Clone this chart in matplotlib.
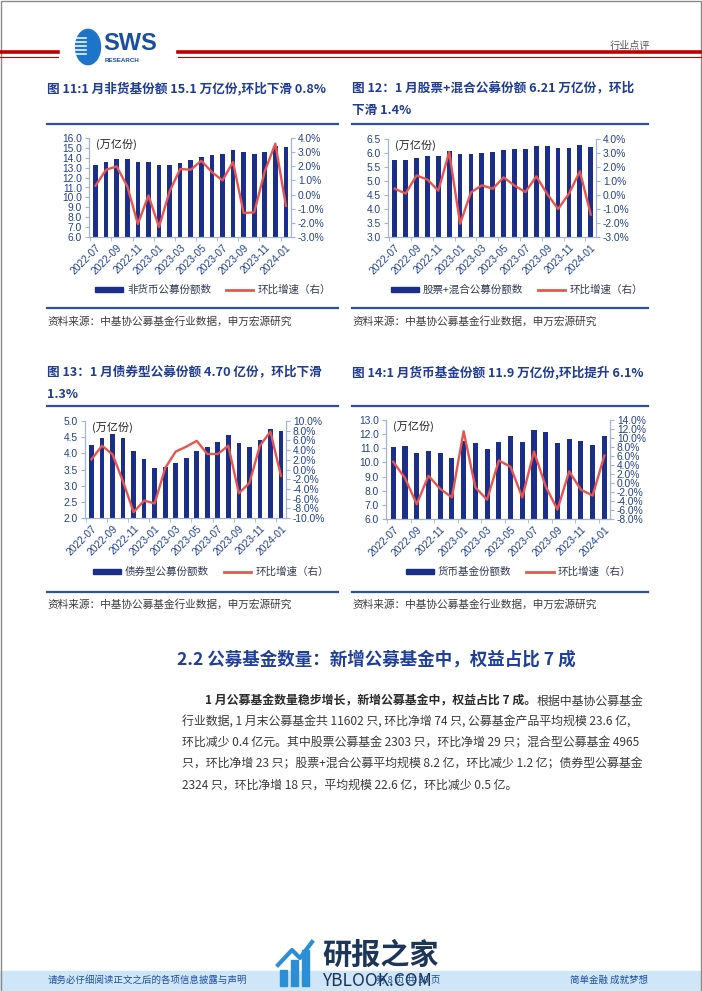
import numpy as np
import matplotlib
matplotlib.use('Agg')
import matplotlib.pyplot as plt
from matplotlib.patches import Rectangle, Circle
from matplotlib.lines import Line2D
from matplotlib.ticker import FormatStrFormatter, FuncFormatter

plt.rcParams['font.family'] = ['Noto Sans CJK SC', 'DejaVu Sans']

W, H = 702, 991

months = ['2022-07', '2022-08', '2022-09', '2022-10', '2022-11', '2022-12',
          '2023-01', '2023-02', '2023-03', '2023-04', '2023-05', '2023-06',
          '2023-07', '2023-08', '2023-09', '2023-10', '2023-11', '2023-12',
          '2024-01']

# 图11 非货币公募份额 (万亿份) / 环比 (%)
nonmoney_share = [13.3, 13.6, 13.85, 13.9, 13.6, 13.6, 13.25, 13.27, 13.5, 13.78,
                  14.08, 14.3, 14.4, 14.8, 14.6, 14.4, 14.6, 15.2, 15.1]
nonmoney_mom = [0.63, 1.76, 1.99, 0.58, -2.08, -0.06, -2.29, 0.22, 1.81, 1.76,
                2.39, 1.59, 1.0, 2.3, -1.3, -1.26, 1.64, 3.6, -0.8]

# 图12 股票+混合
equity_share = [5.75, 5.75, 5.83, 5.89, 5.9, 6.08, 5.95, 5.96, 6.01, 6.04,
                6.11, 6.14, 6.15, 6.24, 6.25, 6.18, 6.18, 6.29, 6.21]
equity_mom = [0.45, 0.1, 1.4, 1.1, 0.31, 3.07, -2.05, 0.19, 0.69, 0.45,
              1.26, 0.67, 0.21, 1.33, 0.07, -1.0, 0.1, 1.69, -1.4]

# 图13 债券型
bond_share = [4.25, 4.46, 4.59, 4.48, 4.07, 3.82, 3.55, 3.57, 3.69, 3.85,
              4.07, 4.21, 4.34, 4.56, 4.33, 4.21, 4.42, 4.76, 4.70]
bond_mom = [2.1, 4.9, 3.1, -2.5, -8.8, -6.4, -7.0, 0.3, 3.7, 4.7,
            5.9, 3.2, 3.2, 4.9, -4.9, -2.8, 4.9, 7.8, -1.3]

# 图14 货币基金
money_share = [11.07, 11.18, 10.64, 10.83, 10.67, 10.33, 11.49, 11.4, 10.92, 11.47,
               11.87, 11.47, 12.27, 12.15, 11.37, 11.66, 11.51, 11.2, 11.9]
money_mom = [4.7, 1.1, -4.7, 1.6, -1.3, -3.2, 11.5, -1.0, -3.7, 5.0,
             3.6, -3.2, 7.0, -0.8, -5.9, 2.6, -1.5, -2.8, 6.1]

NAVY = '#1b2e8a'
RED = '#e8554f'
SPINE = '#9fb4d6'
TXT = '#23418f'
TITLE = '#1f3b93'
RULE = '#2f4f9f'
GREY = '#3c3c3c'

fig = plt.figure(figsize=(W / 100, H / 100), dpi=100)


def box(x0, y0, x1, y1):
    return [x0 / W, 1 - y1 / H, (x1 - x0) / W, (y1 - y0) / H]


def ftext(x, y, s, **kw):
    kw.setdefault('va', 'center')
    return fig.text(x / W, 1 - y / H, s, **kw)


def hrule(x0, x1, y, color=RULE, lw=1.6):
    fig.add_artist(Line2D([x0 / W, x1 / W], [1 - y / H] * 2, color=color, lw=lw))


def draw_chart(rect, share, mom, lticks, rticks, bar_label, leg_x, leg_y):
    ax = fig.add_axes(box(*rect))
    x = np.arange(len(months))
    ax.bar(x, share, width=0.44, color=NAVY, zorder=2)
    ax.set_xlim(-0.62, len(months) - 0.52)
    ax.set_ylim(lticks[0], lticks[-1])
    ax.set_yticks(lticks)
    ax.yaxis.set_major_formatter(FormatStrFormatter('%.1f'))
    ax.set_xticks(x[::2])
    ax.set_xticklabels(months[::2], rotation=45, ha='right', rotation_mode='anchor')
    ax.set_xticks(np.arange(-0.5, len(months) - 1, 2), minor=True)
    ax.tick_params(axis='x', which='major', length=0, pad=4)
    ax.tick_params(axis='x', which='minor', length=3, color=SPINE, direction='out')
    ax.tick_params(axis='y', length=3, color=SPINE, pad=2)
    for lab in ax.get_xticklabels() + ax.get_yticklabels():
        lab.set_color(TXT)
        lab.set_fontsize(7.4)
        lab.set_family(['Liberation Sans', 'DejaVu Sans'])
    ax.spines['top'].set_visible(False)
    for s in ['left', 'right', 'bottom']:
        ax.spines[s].set_color(SPINE)

    ax2 = ax.twinx()
    ax2.plot(x, mom, color=RED, lw=1.7, zorder=3)
    ax2.set_ylim(rticks[0], rticks[-1])
    ax2.set_yticks(rticks)
    ax2.yaxis.set_major_formatter(FuncFormatter(lambda v, p: '%.1f%%' % v))
    ax2.tick_params(axis='y', length=3, color=SPINE, pad=2)
    for lab in ax2.get_yticklabels():
        lab.set_color(TXT)
        lab.set_fontsize(7.4)
        lab.set_family(['Liberation Sans', 'DejaVu Sans'])
    ax2.spines['top'].set_visible(False)
    for s in ['left', 'right', 'bottom']:
        ax2.spines[s].set_color(SPINE)

    ax.text(7 / (rect[2] - rect[0]), 1 - 6 / (rect[3] - rect[1]), '(万亿份)',
            transform=ax.transAxes, ha='left', va='center', fontsize=8, color='#222222')

    handles = [Rectangle((0, 0), 1, 1, color=NAVY), Line2D([], [], color=RED, lw=2)]
    ax2.legend(handles, [bar_label, '环比增速（右）'], loc='center left',
               bbox_to_anchor=(leg_x / W, 1 - leg_y / H), bbox_transform=fig.transFigure,
               ncol=2, frameon=False, fontsize=7.6, handlelength=2.6, handleheight=0.45,
               handletextpad=0.4, columnspacing=1.4, borderpad=0, labelcolor='#333a55')
    return ax


# page frame
fig.add_artist(Rectangle((0.5 / W, 0.5 / H), (W - 1.5) / W, (H - 1.5) / H,
                         transform=fig.transFigure, fill=False, ec='#8a8a8a', lw=1))

# header
hrule(0, 58, 52, color='#c00000', lw=2.6)
hrule(0, 58, 57, color='#c00000', lw=0.8)
hrule(178, 702, 52, color='#c00000', lw=2.6)
hrule(178, 702, 57, color='#c00000', lw=0.8)
logo = Circle((88 / W, 1 - 47 / H), 12.5 / W, transform=fig.transFigure, color='#1e74c8')
fig.add_artist(logo)
for yy in range(38, 58, 4):
    fig.add_artist(Line2D([74 / W, 86 / W], [1 - yy / H] * 2, color='white', lw=1.1))
ftext(103, 44, 'SWS', fontsize=17, fontweight='bold', color='#1a4f9e',
      family=['Liberation Sans', 'DejaVu Sans'])
ftext(105, 60, 'RESEARCH', fontsize=4.5, fontweight='bold', color='#1a4f9e',
      family=['Liberation Sans', 'DejaVu Sans'])
ftext(610, 46, '行业点评', fontsize=7.3, color='#555555')

# chart titles
tkw = dict(fontsize=9.1, fontweight='bold', color=TITLE)
ftext(47, 88, '图 11:1 月非货基份额 15.1 万亿份,环比下滑 0.8%', **tkw)
ftext(352, 88, '图 12：1 月股票+混合公募份额 6.21 万亿份，环比', **tkw)
ftext(352, 110, '下滑 1.4%', **tkw)
ftext(47, 372, '图 13：1 月债券型公募份额 4.70 亿份，环比下滑', **tkw)
ftext(47, 394, '1.3%', **tkw)
ftext(352, 372, '图 14:1 月货币基金份额 11.9 万亿份,环比提升 6.1%', **tkw)

hrule(47, 338, 124)
hrule(352, 648, 124)
hrule(47, 338, 308)
hrule(352, 648, 308)
hrule(47, 338, 406)
hrule(352, 648, 406)
hrule(47, 338, 592)
hrule(352, 648, 592)

skw = dict(fontsize=7.7, color=GREY)
src = '资料来源：中基协公募基金行业数据，申万宏源研究'
ftext(47, 321, src, **skw)
ftext(352, 321, src, **skw)
ftext(47, 604, src, **skw)
ftext(352, 604, src, **skw)

draw_chart((89, 138, 291, 237), nonmoney_share, nonmoney_mom,
           np.arange(6.0, 16.01, 1.0), np.arange(-3.0, 4.01, 1.0),
           '非货币公募份额数', 90, 290)
draw_chart((388, 139, 596, 237), equity_share, equity_mom,
           np.arange(3.0, 6.51, 0.5), np.arange(-3.0, 4.01, 1.0),
           '股票+混合公募份额数', 386, 290)
draw_chart((85, 421, 286, 518), bond_share, bond_mom,
           np.arange(2.0, 5.01, 0.5), np.arange(-10.0, 10.01, 2.0),
           '债券型公募份额数', 88, 572)
draw_chart((386, 420, 610, 519), money_share, money_mom,
           np.arange(6.0, 13.01, 1.0), np.arange(-8.0, 14.01, 2.0),
           '货币基金份额数', 401, 572)

# section text
ftext(177, 660, '2.2 公募基金数量：新增公募基金中，权益占比 7 成', fontsize=12.6,
      fontweight='bold', color='#1f3f9a')

pkw = dict(fontsize=8.6, color='#3a3a3a')
fig.canvas.draw()
r = fig.canvas.get_renderer()
b = ftext(205, 701, '1 月公募基金数量稳步增长，新增公募基金中，权益占比 7 成。',
          fontsize=8.6, fontweight='bold', color='#2a2a2a')
ext = b.get_window_extent(renderer=r)
ftext(ext.x1, 701, '根据中基协公募基金', **pkw)
para = ['行业数据, 1 月末公募基金共 11602 只, 环比净增 74 只, 公募基金产品平均规模 23.6 亿,',
        '环比减少 0.4 亿元。其中股票公募基金 2303 只，环比净增 29 只；混合型公募基金 4965',
        '只，环比净增 23 只；股票+混合公募平均规模 8.2 亿，环比减少 1.2 亿；债券型公募基金',
        '2324 只，环比净增 18 只，平均规模 22.6 亿，环比减少 0.5 亿。']
for i, line in enumerate(para):
    ftext(182, 722 + i * 21, line, **pkw)

# footer
fig.add_artist(Rectangle((0, 1 - 989 / H), 1, 18 / H, transform=fig.transFigure,
                         color='#cfe6f8', zorder=0))
fkw = dict(fontsize=6.8, color='#1f4e9e')
ftext(48, 980, '请务必仔细阅读正文之后的各项信息披露与声明', **fkw)
ftext(440, 980, '第 8 页 共 30 页', ha='right', **fkw)
ftext(648, 980, '简单金融 成就梦想', ha='right', **fkw)

# watermark
for i, hh in enumerate([16, 26, 36]):
    fig.add_artist(Rectangle(((280 + i * 11) / W, 1 - 986 / H), 7 / W, hh / H,
                             transform=fig.transFigure, color='#2c8fd6'))
fig.add_artist(Line2D([278 / W, 292 / W, 300 / W, 312 / W],
                      [1 - 965 / H, 1 - 950 / H, 1 - 958 / H, 1 - 942 / H],
                      transform=fig.transFigure, color='#2c8fd6', lw=3))
ftext(322, 955, '研报之家', fontsize=21, fontweight='bold', color='#1d3557')
ftext(322, 981, 'YBLOOK.COM', fontsize=12.5, color='#1d3557')

fig.savefig('out.png', dpi=100)
